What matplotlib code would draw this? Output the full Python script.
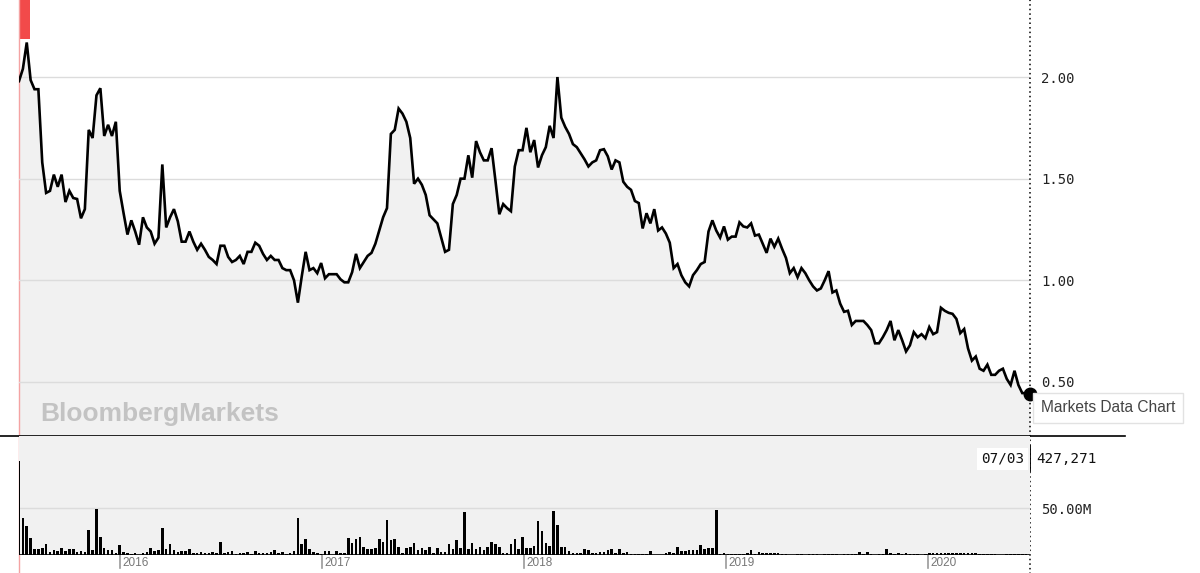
import numpy as np
import pandas as pd
import matplotlib
matplotlib.use("Agg")
import matplotlib.pyplot as plt
import matplotlib.transforms as mtransforms

# weekly closes, 2015-07-03 .. 2020-07-03
start = "2015-07-03"
end = "2020-07-03"

close = [
    1.98, 2.04, 2.17, 1.985, 1.94, 1.94, 1.58, 1.43, 1.44, 1.52,
    1.46, 1.52, 1.385, 1.44, 1.405, 1.40, 1.305, 1.35, 1.74, 1.70,
    1.91, 1.945, 1.71, 1.765, 1.71, 1.78, 1.44, 1.33, 1.225, 1.295,
    1.24, 1.175, 1.31, 1.26, 1.24, 1.18, 1.21, 1.57, 1.26, 1.31,
    1.35, 1.29, 1.19, 1.19, 1.24, 1.19, 1.15, 1.18, 1.15, 1.115,
    1.10, 1.08, 1.17, 1.17, 1.115, 1.09, 1.10, 1.12, 1.08, 1.14,
    1.14, 1.185, 1.17, 1.13, 1.10, 1.12, 1.10, 1.10, 1.06, 1.05,
    1.05, 1.00, 0.89, 1.02, 1.14, 1.05, 1.06, 1.035, 1.085, 1.01,
    1.03, 1.03, 1.03, 1.005, 0.99, 0.99, 1.04, 1.13, 1.06, 1.09,
    1.12, 1.135, 1.18, 1.245, 1.31, 1.355, 1.72, 1.74, 1.845, 1.82,
    1.78, 1.70, 1.475, 1.50, 1.47, 1.42, 1.32, 1.30, 1.28, 1.21,
    1.14, 1.15, 1.375, 1.42, 1.50, 1.50, 1.615, 1.505, 1.685, 1.63,
    1.59, 1.59, 1.65, 1.49, 1.325, 1.375, 1.355, 1.34, 1.56, 1.64,
    1.64, 1.75, 1.63, 1.69, 1.555, 1.615, 1.655, 1.76, 1.70, 2.00,
    1.80, 1.755, 1.72, 1.67, 1.655, 1.625, 1.595, 1.56, 1.58, 1.59,
    1.64, 1.645, 1.61, 1.545, 1.59, 1.58, 1.485, 1.46, 1.445, 1.39,
    1.38, 1.255, 1.33, 1.28, 1.35, 1.245, 1.26, 1.23, 1.185, 1.06,
    1.08, 1.025, 0.99, 0.97, 1.025, 1.05, 1.08, 1.09, 1.24, 1.295,
    1.245, 1.21, 1.265, 1.20, 1.215, 1.215, 1.285, 1.265, 1.26, 1.28,
    1.22, 1.225, 1.18, 1.135, 1.205, 1.165, 1.205, 1.155, 1.11, 1.035,
    1.06, 1.015, 1.06, 1.035, 1.00, 0.97, 0.95, 0.96, 1.00, 1.045,
    0.94, 0.95, 0.885, 0.845, 0.85, 0.78, 0.80, 0.80, 0.80, 0.78,
    0.755, 0.69, 0.69, 0.72, 0.755, 0.80, 0.705, 0.755, 0.705, 0.65,
    0.68, 0.745, 0.72, 0.735, 0.715, 0.77, 0.735, 0.745, 0.865, 0.85,
    0.84, 0.835, 0.81, 0.74, 0.76, 0.665, 0.605, 0.625, 0.565, 0.555,
    0.585, 0.535, 0.535, 0.555, 0.565, 0.515, 0.485, 0.555, 0.485, 0.445,
    0.445, 0.44,
]

# weekly volume in millions
volume = [
    100, 39.8, 31, 17.6, 6, 6, 7.7, 11.3, 3.5, 5.3,
    4.6, 7, 4.6, 6.7, 6.7, 3.5, 4.6, 3.5, 27, 5.3,
    49.3, 19.4, 7.7, 5.3, 5.3, 2.5, 10.2, 3.5, 2.5, 1,
    2.5, 0.3, 2.5, 3.2, 7.4, 3.9, 5.3, 29.2, 6.3, 11.6,
    5.3, 3.5, 3.9, 3.9, 6.3, 1.8, 1.8, 2.8, 2.5, 2.5,
    3.2, 1.8, 14, 1.8, 3.2, 3.9, 1, 2.5, 2.5, 3.2,
    1, 3.9, 1.8, 1.8, 1.8, 3.2, 4.9, 1.8, 3.2, 1,
    1.8, 4.6, 39.8, 11.3, 17.3, 6, 2.8, 1.8, 1, 3.9,
    4.6, 0.3, 4.6, 2.5, 1.8, 17.6, 13, 16.5, 18.7, 8.1,
    6, 6, 7.4, 16.5, 14, 37, 15.8, 16.5,
    8.1, 2.5, 7, 8.8, 13, 5.3, 7.7, 5.3, 8.1, 1.8,
    7, 3.5, 3.5, 11.3, 6, 15.8, 7.7, 45.8, 6, 12.3,
    6, 8.1, 5.3, 8.8, 14, 11.6, 8.1, 2.5, 2.5, 11.6,
    16.9, 6.3, 18.7, 7, 7.7, 9.9, 35.9, 25.7, 12.3, 9.5,
    47.2, 31.7, 8.1, 8.1, 4.2, 1.8, 1.8, 2.5, 6.3, 5.3,
    1.8, 2.5, 3.5, 2.8, 5.3, 6, 2.5, 6.3, 2.5, 3.5,
    1, 0.7, 0.7, 1, 0.7, 4.2, 0.3, 0.3, 0.3, 2.5,
    3.5, 1.8, 8.8, 4.6, 4.6, 5.3, 5.3, 5.3, 10.6, 6,
    7.7, 7.7, 47.9, 1, 1.8, 1, 1, 1, 0.7, 1,
    1.8, 5.3, 1, 3.2, 1.8, 1.8, 1.8, 2.5, 1.8, 1,
    1, 0.3, 0.3,
    0.7, 1, 0.5, 0.8, 1, 0.6, 0.5, 0.8, 1.2, 0.7,
    0.6, 0.5, 0.8, 1, 0.7, 1.5, 2.8, 1.0, 2.8, 0.8,
    0.5, 0.6, 1.2, 6.3, 2.0, 1.5, 2.5, 1.2, 1.8, 0.8,
    0.7, 1.0, 0.5, 0.8, 2.5, 1.8, 2.5, 2.2, 2.5, 2.0,
    2.5, 1.8, 2.5, 2.0, 2.2, 1.8, 2.5, 1.5, 1.0, 0.8,
    0.6, 1.5, 0.5, 0.4, 0.8, 1.2, 1.0, 1.0, 0.8, 0.9,
    0.43,
]

years = ["2016", "2017", "2018", "2019", "2020"]
price_ticks = [0.5, 1.0, 1.5, 2.0]
vol_ticks = [50]
last_date_label = "07/03"
last_volume_label = "427,271"

n = min(len(close), len(volume))
close = close[:n]
volume = volume[:n]
dates = pd.date_range(start, end, periods=n)

W, H = 1200, 573
fig = plt.figure(figsize=(W / 100, H / 100), dpi=100)
x0, x1 = 19 / W, 1030 / W
ax = fig.add_axes([x0, 137 / H, x1 - x0, 436 / H])
axv = fig.add_axes([x0, 18 / H, x1 - x0, 119 / H], sharex=ax)

mono = "DejaVu Sans Mono"
pmin, pmax = 0.234, 2.379

# price panel
ax.fill_between(dates, close, 0, color="#f1f1f1", lw=0, zorder=1)
ax.plot(dates, close, color="black", lw=1.9, zorder=3, solid_joinstyle="miter")
ax.set_xlim(dates[0], dates[-1])
ax.set_ylim(pmin, pmax)
ax.set_yticks(price_ticks)
ax.set_yticklabels([f"{t:.2f}" for t in price_ticks], family=mono, fontsize=10, color="#222")
ax.yaxis.tick_right()
ax.tick_params(axis="y", length=0, pad=8)
ax.tick_params(axis="x", bottom=False, labelbottom=False)
ax.grid(axis="y", color="#dcdcdc", lw=1)
ax.set_axisbelow(False)
for s in ax.spines.values():
    s.set_visible(False)

ax.text(0.021, 0.05, "BloombergMarkets", transform=ax.transAxes, family="Liberation Sans",
        fontweight="bold", fontsize=19, color="#c3c3c3", va="center", ha="left")

# red marker at the start of the range
ax.axvspan(dates[0], dates[0] + pd.Timedelta(days=19), ymin=0.91, ymax=1, color="#f24a4a", lw=0, zorder=2)
ax.axvline(dates[0], ymin=-0.33, ymax=1, color="#f4a3a3", lw=1, clip_on=False, zorder=2)

# crosshair at the last point
ax.axvline(dates[-1], ymin=-0.33, ymax=1, color="black", lw=1.1, ls=(0, (1, 2)), clip_on=False, zorder=4)
ax.axvline(dates[-1], ymin=-0.081, ymax=-0.024, color="black", lw=1.3, clip_on=False, zorder=5)
ax.plot(dates[-1], close[-1], "o", color="black", ms=9, clip_on=False, zorder=6)
ax.axhline(pmin, xmin=-0.019, xmax=1.094, color="black", lw=1.2, clip_on=False, zorder=4)

# volume panel
axv.set_facecolor("#f1f1f1")
axv.bar(dates, volume, width=4.6, color="black", zorder=3)
axv.axhline(0, color="black", lw=1.2, zorder=4)
axv.set_ylim(0, 126.6)
axv.set_yticks(vol_ticks)
axv.set_yticklabels([f"{t:.2f}M" for t in vol_ticks], family=mono, fontsize=10, color="#222")
axv.yaxis.tick_right()
axv.tick_params(axis="y", length=0, pad=8)
axv.tick_params(axis="x", bottom=False, labelbottom=False)
axv.grid(axis="y", color="#dcdcdc", lw=1)
axv.set_axisbelow(True)
for s in axv.spines.values():
    s.set_visible(False)

trans = mtransforms.blended_transform_factory(axv.transData, axv.transAxes)
shift = mtransforms.ScaledTranslation(2.5 / 100, 0, fig.dpi_scale_trans)
for y in years:
    d = pd.Timestamp(f"{y}-01-01")
    axv.plot([d, d], [0, -0.11], transform=trans, color="#9a9a9a", lw=1.2, clip_on=False)
    axv.text(d, -0.068, y, transform=trans + shift, fontsize=8.5, color="#777",
             va="center", ha="left", family="Liberation Sans")

# labels at the crosshair
fig.text(1024 / W, 1 - 459 / H, last_date_label, family=mono, fontsize=10.3, color="#111",
         ha="right", va="center", bbox=dict(boxstyle="square,pad=0.3", fc="white", ec="none"))
fig.text(1036 / W, 1 - 459 / H, last_volume_label, family=mono, fontsize=10.3, color="#111",
         ha="left", va="center", bbox=dict(boxstyle="square,pad=0.3", fc="white", ec="none"))
fig.text(1041 / W, 1 - 408 / H, "Markets Data Chart", family="Liberation Sans", fontsize=11.2,
         color="#444", ha="left", va="center",
         bbox=dict(boxstyle="square,pad=0.5", fc="white", ec="#e2e2e2", lw=1))

fig.savefig("out.png", dpi=100)
